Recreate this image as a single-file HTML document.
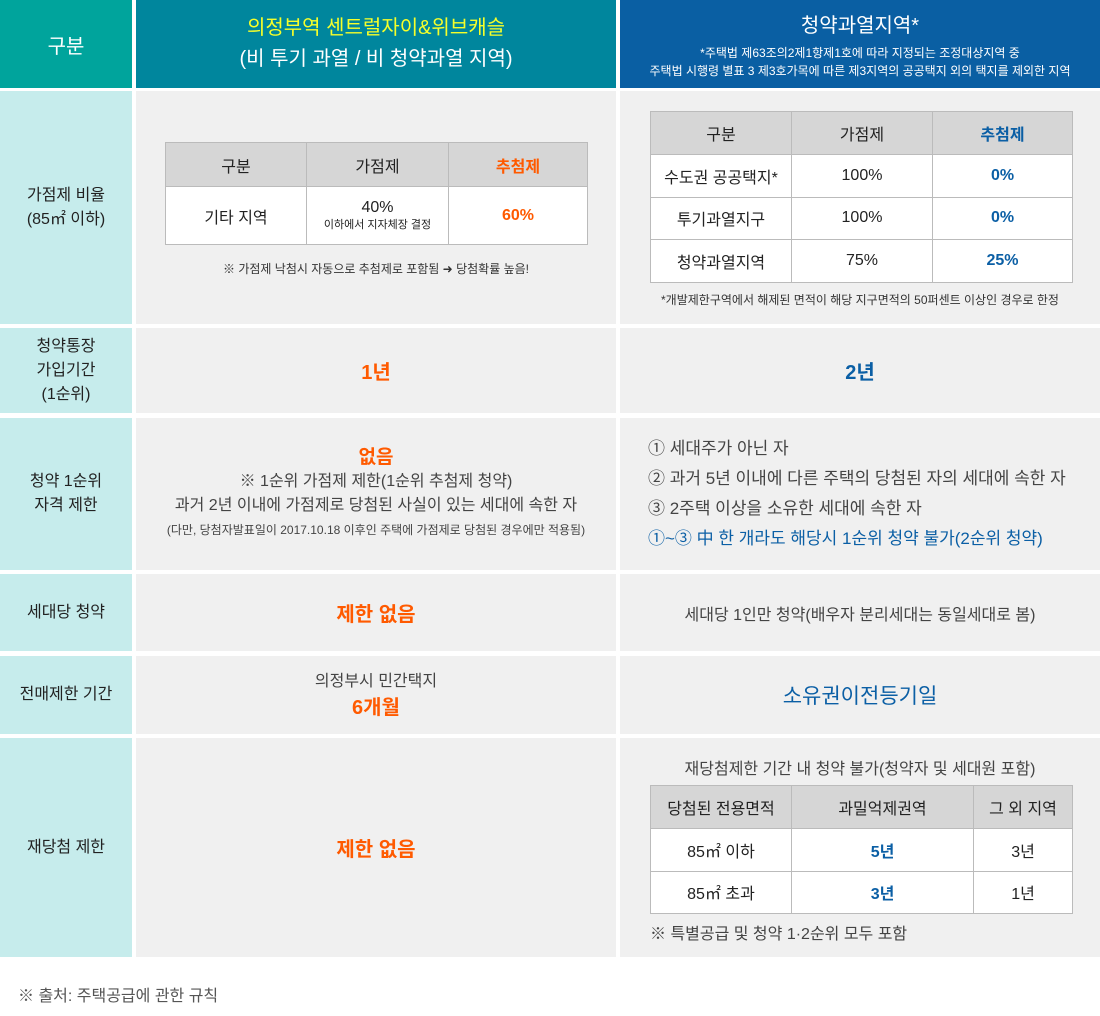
<!DOCTYPE html>
<html><head><meta charset="utf-8"><style>
*{margin:0;padding:0;box-sizing:border-box}
body{width:1100px;height:1016px;background:#fff;font-family:"Liberation Sans","Noto Sans CJK KR",sans-serif;color:#333;position:relative;overflow:hidden}
.c{position:absolute;display:flex;flex-direction:column;align-items:center;justify-content:center;text-align:center}
.lab{background:#c6ecec;font-size:16px;color:#222;line-height:24px}
.g{background:#f0f0f0}
.o{color:#ff5a00;font-weight:bold}
.b{color:#0b5fa5;font-weight:bold}
table{position:absolute;border-collapse:collapse;background:#fff;font-size:16px;color:#222}
td,th{border:1px solid #bbb;text-align:center;font-weight:normal;padding:0}
th{background:#d6d6d6}
</style></head><body>
<div class="c" style="left:0;top:0;width:132px;height:88px;background:#00a49c;color:#fff;font-size:20px">구분</div>
<div class="c" style="left:136px;top:0;width:480px;height:88px;background:#00869d;color:#fff;font-size:20px;line-height:31px"><div style="color:#f6ff2a">의정부역 센트럴자이&amp;위브캐슬</div><div>(비 투기 과열 / 비 청약과열 지역)</div></div>
<div class="c" style="left:620px;top:0;width:480px;height:88px;background:#0a5fa3;color:#fff"><div style="font-size:20px;margin-bottom:6px">청약과열지역*</div><div style="font-size:12px;line-height:18px">*주택법 제63조의2제1항제1호에 따라 지정되는 조정대상지역 중<br>주택법 시행령 별표 3 제3호가목에 따른 제3지역의 공공택지 외의 택지를 제외한 지역</div></div>

<div class="c lab" style="left:0;top:91px;width:132px;height:233px">가점제 비율<br>(85㎡ 이하)</div>
<div class="c g" style="left:136px;top:91px;width:480px;height:233px"></div>
<table style="left:165px;top:142px;width:423px;height:103px">
<tr style="height:44px"><th style="width:141px">구분</th><th style="width:142px">가점제</th><th class="o">추첨제</th></tr>
<tr><td>기타 지역</td><td><div>40%</div><div style="font-size:11px;line-height:16px">이하에서 지자체장 결정</div></td><td class="o">60%</td></tr></table>
<div class="c" style="left:136px;top:258px;width:480px;height:20px;font-size:12px">※ 가점제 낙첨시 자동으로 추첨제로 포함됨 ➜ 당첨확률 높음!</div>
<div class="c g" style="left:620px;top:91px;width:480px;height:233px"></div>
<table style="left:650px;top:111px;width:423px;height:172px">
<tr style="height:43px"><th style="width:141px">구분</th><th style="width:141px">가점제</th><th class="b">추첨제</th></tr>
<tr><td>수도권 공공택지*</td><td>100%</td><td class="b">0%</td></tr>
<tr><td>투기과열지구</td><td>100%</td><td class="b">0%</td></tr>
<tr><td>청약과열지역</td><td>75%</td><td class="b">25%</td></tr></table>
<div class="c" style="left:620px;top:290px;width:480px;height:18px;font-size:12px">*개발제한구역에서 해제된 면적이 해당 지구면적의 50퍼센트 이상인 경우로 한정</div>

<div class="c lab" style="left:0;top:328px;width:132px;height:85px">청약통장<br>가입기간<br>(1순위)</div>
<div class="c g o" style="left:136px;top:328px;width:480px;height:85px;font-size:20px">1년</div>
<div class="c g b" style="left:620px;top:328px;width:480px;height:85px;font-size:20px">2년</div>

<div class="c lab" style="left:0;top:418px;width:132px;height:152px">청약 1순위<br>자격 제한</div>
<div class="c g" style="left:136px;top:418px;width:480px;height:152px;font-size:16px;line-height:24px;color:#444"><div class="o" style="font-size:19px">없음</div><div>※ 1순위 가점제 제한(1순위 추첨제 청약)</div><div>과거 2년 이내에 가점제로 당첨된 사실이 있는 세대에 속한 자</div><div style="font-size:12px">(다만, 당첨자발표일이 2017.10.18 이후인 주택에 가점제로 당첨된 경우에만 적용됨)</div></div>
<div class="c g" style="left:620px;top:418px;width:480px;height:152px;align-items:flex-start;padding-left:28px;font-size:17px;line-height:30px;color:#444"><div>① 세대주가 아닌 자</div><div>② 과거 5년 이내에 다른 주택의 당첨된 자의 세대에 속한 자</div><div>③ 2주택 이상을 소유한 세대에 속한 자</div><div style="color:#0b5fa5">①~③ 中 한 개라도 해당시 1순위 청약 불가(2순위 청약)</div></div>

<div class="c lab" style="left:0;top:574px;width:132px;height:77px">세대당 청약</div>
<div class="c g o" style="left:136px;top:574px;width:480px;height:77px;font-size:20px">제한 없음</div>
<div class="c g" style="left:620px;top:574px;width:480px;height:77px;font-size:16px;color:#444">세대당 1인만 청약(배우자 분리세대는 동일세대로 봄)</div>

<div class="c lab" style="left:0;top:656px;width:132px;height:78px">전매제한 기간</div>
<div class="c g" style="left:136px;top:656px;width:480px;height:78px;font-size:16px;color:#444;line-height:26px"><div>의정부시 민간택지</div><div class="o" style="font-size:20px">6개월</div></div>
<div class="c g" style="left:620px;top:656px;width:480px;height:78px;font-size:21px;color:#0b5fa5">소유권이전등기일</div>

<div class="c lab" style="left:0;top:738px;width:132px;height:219px">재당첨 제한</div>
<div class="c g o" style="left:136px;top:738px;width:480px;height:219px;font-size:20px">제한 없음</div>
<div class="c g" style="left:620px;top:738px;width:480px;height:219px"></div>
<div class="c" style="left:620px;top:756px;width:480px;height:22px;font-size:16px;color:#444">재당첨제한 기간 내 청약 불가(청약자 및 세대원 포함)</div>
<table style="left:650px;top:785px;width:423px;height:129px">
<tr style="height:43px"><th style="width:141px">당첨된 전용면적</th><th style="width:182px">과밀억제권역</th><th>그 외 지역</th></tr>
<tr><td>85㎡ 이하</td><td class="b">5년</td><td>3년</td></tr>
<tr><td>85㎡ 초과</td><td class="b">3년</td><td>1년</td></tr></table>
<div style="position:absolute;left:650px;top:920px;font-size:16px;color:#444">※ 특별공급 및 청약 1·2순위 모두 포함</div>

<div style="position:absolute;left:18px;top:982px;font-size:16px;color:#555">※ 출처: 주택공급에 관한 규칙</div>
</body></html>
